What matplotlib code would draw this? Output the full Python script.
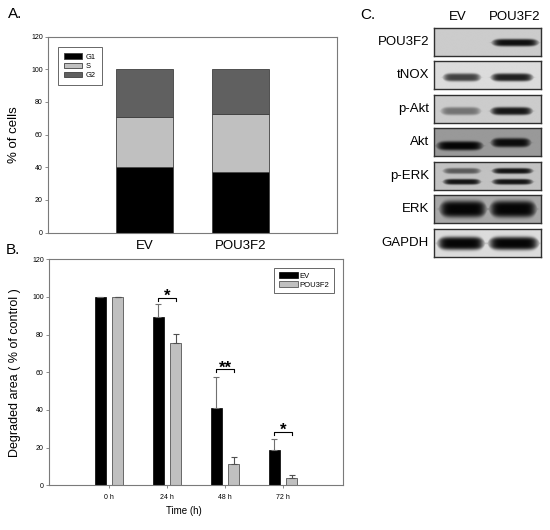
import matplotlib
matplotlib.use("Agg")
import matplotlib.pyplot as plt
import numpy as np

plt.rcParams["font.family"] = ["Liberation Sans", "DejaVu Sans"]

# ---- panel A: cell cycle distribution (% of cells)
groups_a = ["EV", "POU3F2"]
phases = ["G1", "S", "G2"]
g1_pct = [40.4, 36.9]
s_pct = [30.6, 36.0]
g2_pct = [29.0, 27.1]

# ---- panel B: degraded area (% of control)
times = ["0 h", "24 h", "48 h", "72 h"]
ev_mean = [100.0, 89.2, 41.2, 18.9]
ev_err = [0.0, 6.9, 16.5, 5.5]
pou_mean = [100.0, 75.4, 11.5, 3.7]
pou_err = [0.0, 4.9, 3.5, 1.8]
sig_idx = [1, 2, 3]
sig_marks = ["*", "**", "*"]
sig_level = [99.6, 61.6, 28.5]

# ---- panel C: western blot band strength (0 = none, 1 = saturated)
blot_rows = ["POU3F2", "tNOX", "p-Akt", "Akt", "p-ERK", "ERK", "GAPDH"]
blot_lanes = ["EV", "POU3F2"]
blot_bg = [0.80, 0.86, 0.80, 0.60, 0.76, 0.66, 0.86]
ev_bands = [[0.0], [0.72], [0.45], [1.0], [0.55, 0.92], [1.0], [1.0]]
pou_bands = [[0.95], [0.88], [0.92], [0.95], [0.92, 0.92], [1.0], [1.0]]

fig = plt.figure(figsize=(5.5, 5.3), dpi=100)
W, H = 550.0, 530.0


def px_axes(left, top, right, bottom):
    return fig.add_axes([left / W, 1 - bottom / H, (right - left) / W, (bottom - top) / H])


spine_gray = "#7a7a7a"

# ================= A =================
axA = px_axes(48.3, 36.5, 336.7, 232.7)
xa = np.arange(len(groups_a))
bottoms = np.zeros(len(groups_a))
for vals, col, lab in zip([g1_pct, s_pct, g2_pct], ["black", "#c0c0c0", "#606060"], phases):
    axA.bar(xa, vals, 0.6, bottom=bottoms, color=col, edgecolor="#404040", linewidth=0.6, label=lab)
    bottoms = bottoms + np.array(vals)
axA.set_xlim(-1, 2)
axA.set_ylim(0, 120)
axA.set_yticks(range(0, 121, 20))
axA.tick_params(axis="y", labelsize=5, length=2.5, width=0.6, color=spine_gray, pad=1.5)
axA.set_xticks(xa)
axA.set_xticklabels(groups_a, fontsize=9.5)
axA.tick_params(axis="x", length=0, pad=5.5)
for sp in axA.spines.values():
    sp.set_color(spine_gray)
    sp.set_linewidth(0.8)
axA.set_ylabel("% of cells", fontsize=9.5, va="center")
axA.yaxis.set_label_coords(-0.119, 0.5)
legA = axA.legend(loc="upper left", bbox_to_anchor=(0.034, 0.946), fontsize=5.4, frameon=True,
                  fancybox=False, edgecolor="#404040", handlelength=2.4, handleheight=0.66,
                  handletextpad=0.45, borderpad=0.85, labelspacing=0.25, borderaxespad=0)
legA.get_frame().set_linewidth(0.7)

# ================= B =================
axB = px_axes(49.3, 259.2, 342.7, 485.3)
xb = np.arange(len(times))
off = 0.15
bw = 0.185
axB.bar(xb - off, ev_mean, bw, color="black", edgecolor="black", linewidth=0.5, label="EV",
        yerr=[np.zeros(len(xb)), ev_err], error_kw=dict(ecolor="#707070", elinewidth=0.8, capsize=2.2, capthick=0.8))
axB.bar(xb + off, pou_mean, bw, color="#c0c0c0", edgecolor="#555555", linewidth=0.6, label="POU3F2",
        yerr=[np.zeros(len(xb)), pou_err], error_kw=dict(ecolor="#505050", elinewidth=0.8, capsize=2.2, capthick=0.8))
axB.set_xlim(-1.03, 4.03)
axB.set_ylim(0, 120)
axB.set_yticks(range(0, 121, 20))
axB.set_xticks(xb)
axB.set_xticklabels(times)
axB.tick_params(labelsize=5, length=2.5, width=0.6, color=spine_gray, pad=1.5)
axB.tick_params(axis="x", pad=4)
for sp in axB.spines.values():
    sp.set_color(spine_gray)
    sp.set_linewidth(0.8)
axB.set_ylabel("Degraded area ( % of control )", fontsize=9, va="center")
axB.yaxis.set_label_coords(-0.117, 0.5)
axB.set_xlabel("Time (h)", fontsize=7, va="center")
axB.xaxis.set_label_coords(0.46, -0.114)
legB = axB.legend(loc="upper left", bbox_to_anchor=(0.766, 0.962), fontsize=5.5, frameon=True,
                  fancybox=False, edgecolor="#404040", handlelength=2.6, handleheight=0.7,
                  handletextpad=0.1, borderpad=0.6, labelspacing=0.2, borderaxespad=0)
legB.get_frame().set_linewidth(0.7)

for i, mark, lvl in zip(sig_idx, sig_marks, sig_level):
    x0, x1 = i - off, i + off
    axB.plot([x0, x0, x1, x1], [lvl - 1.6, lvl, lvl, lvl - 1.6], color="black", lw=0.8)
    axB.annotate(mark, (i, lvl), xytext=(0, 1), textcoords="offset points", ha="center",
                 va="center", fontsize=12, fontweight="bold")

# ================= C =================
fig.text(360 / W, 1 - 15 / H, "C.", fontsize=11, ha="left", va="center")
fig.text(8 / W, 1 - 14 / H, "A.", fontsize=11, ha="left", va="center")
fig.text(6 / W, 1 - 250 / H, "B.", fontsize=11, ha="left", va="center")
fig.text(458 / W, 1 - 17 / H, blot_lanes[0], fontsize=9.5, ha="center", va="center")
fig.text(515 / W, 1 - 17 / H, blot_lanes[1], fontsize=9.5, ha="center", va="center")

# band geometry inside each strip: lane centre / half width, band row(s), half thickness
geom = [
    dict(ev=(0.26, 0.17), pou=(0.76, 0.21), y=[0.54], t=0.13),
    dict(ev=(0.26, 0.17), pou=(0.73, 0.19), y=[0.60], t=0.14),
    dict(ev=(0.25, 0.18), pou=(0.725, 0.19), y=[0.59], t=0.14),
    dict(ev=(0.24, 0.21), pou=(0.72, 0.18), y=[0.65], t=0.16, pou_y=[0.54]),
    dict(ev=(0.26, 0.17), pou=(0.735, 0.185), y=[0.34, 0.72], t=0.10),
    dict(ev=(0.27, 0.21), pou=(0.74, 0.21), y=[0.52], t=0.29),
    dict(ev=(0.25, 0.21), pou=(0.745, 0.225), y=[0.53], t=0.23),
]
row_top0, row_step, row_h = 27.5, 33.5, 28.3
gx, gy = np.meshgrid(np.linspace(0, 1, 240), np.linspace(0, 1, 70))
for r, name in enumerate(blot_rows):
    top = row_top0 + r * row_step
    ax = px_axes(434, top, 540.5, top + row_h)
    g = geom[r]
    img = np.ones_like(gx) * blot_bg[r]
    lanes = [(g["ev"], g["y"], ev_bands[r]), (g["pou"], g.get("pou_y", g["y"]), pou_bands[r])]
    for (cx, hw), ys, levels in lanes:
        u = np.clip(np.abs(gx - cx) / (hw * 1.08), 0, 1)
        taper = np.sqrt(np.clip(1 - u ** 6, 0.02, 1))
        for yc, lev in zip(ys, levels):
            prof = np.exp(-((gx - cx) / hw) ** 8) * np.exp(-((gy - yc) / (g["t"] * taper)) ** 4)
            img = img * (1 - lev * 0.97 * prof)
    ax.imshow(img, cmap="gray", vmin=0, vmax=1, extent=[0, 1, 1, 0], aspect="auto",
              interpolation="bilinear")
    ax.set_xticks([])
    ax.set_yticks([])
    for sp in ax.spines.values():
        sp.set_color("#303030")
        sp.set_linewidth(1.0)
    fig.text(429 / W, 1 - (top + row_h / 2) / H, name, fontsize=9.5, ha="right", va="center")

fig.savefig("out.png", dpi=100)
